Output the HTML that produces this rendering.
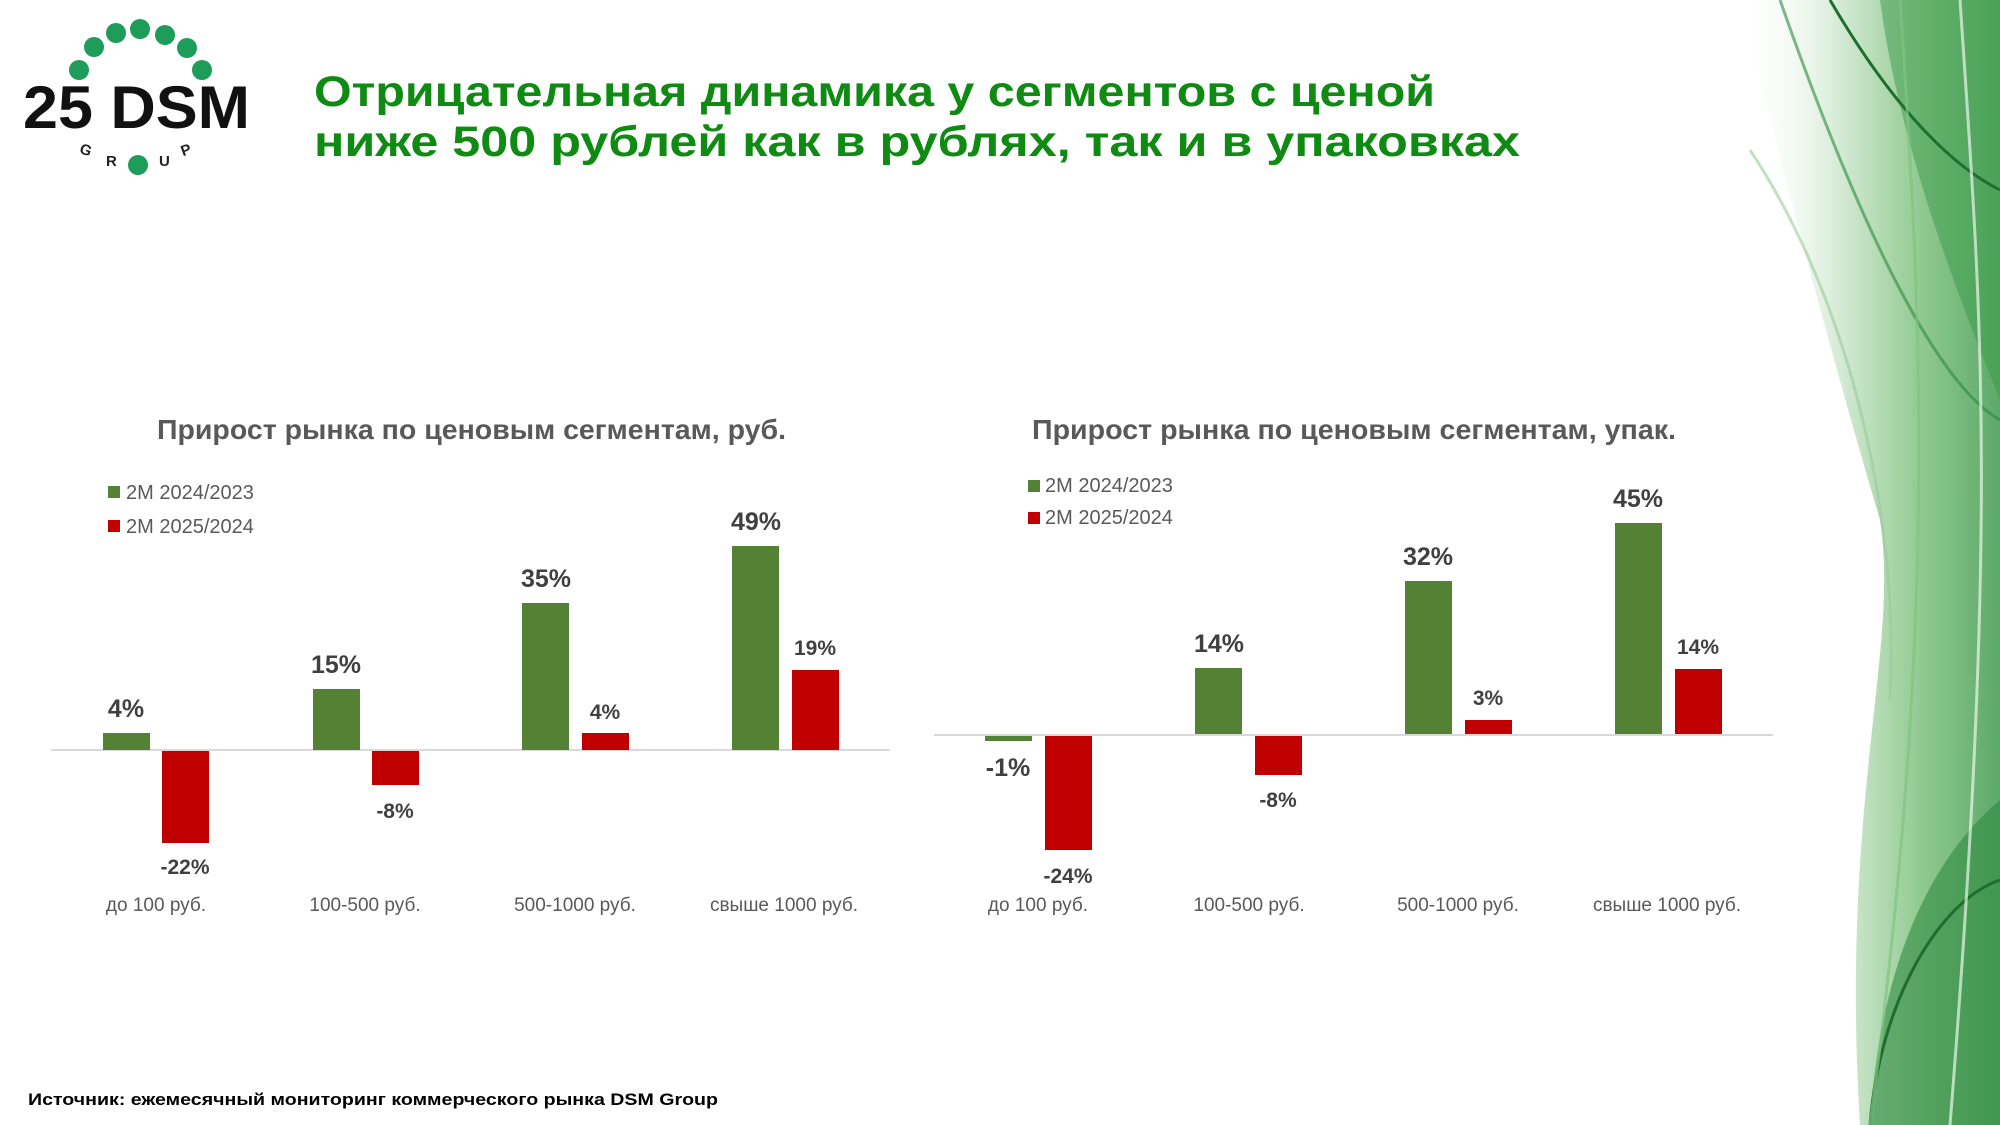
<!DOCTYPE html>
<html><head><meta charset="utf-8"><style>
html,body{margin:0;padding:0;background:#fff;}
svg{display:block;}
text{font-family:"Liberation Sans","DejaVu Sans",sans-serif;}
</style></head><body>
<svg width="2000" height="1125" viewBox="0 0 2000 1125" xmlns="http://www.w3.org/2000/svg">
<defs>
<linearGradient id="bg" x1="0" y1="0" x2="1" y2="0">
<stop offset="0" stop-color="#fff" stop-opacity="0"/>
<stop offset="0.35" stop-color="#d6ebd6"/>
<stop offset="0.7" stop-color="#7cc07c"/>
<stop offset="1" stop-color="#3f9a4c"/>
</linearGradient>
</defs>
<rect width="2000" height="1125" fill="#fff"/>
<path d="M1740,0 C1790,200 1830,350 1880,520 C1900,650 1840,800 1860,1125 L2000,1125 L2000,0 Z" fill="url(#bg)" opacity="0.85"/>
<path d="M1880,0 C1900,150 1960,300 2000,400 L2000,0 Z" fill="#3a9a4a" opacity="0.5"/>
<path d="M1870,1125 C1880,950 1940,850 2000,800 L2000,1125 Z" fill="#2f8a40" opacity="0.6"/>
<g fill="none" stroke-width="3">
<path d="M1830,0 C1900,120 1960,170 2000,190" stroke="#1f6e2f"/>
<path d="M1780,0 C1850,200 1930,380 2000,420" stroke="#2c8a3c" opacity="0.6"/>
<path d="M1870,1125 C1880,1000 1940,900 2000,880" stroke="#1f6e2f"/>
<path d="M1900,0 C1920,300 1940,600 1870,1125" stroke="#7fc47f" opacity="0.7"/>
<path d="M1960,0 C1980,300 2000,500 1950,1125" stroke="#eaf6ea" opacity="0.7"/>
<path d="M1750,150 C1850,300 1900,520 1890,700" stroke="#99cc99" opacity="0.6"/>
</g>
<g fill="#1e9c5a">
<circle cx="79" cy="70" r="10"/><circle cx="94" cy="47" r="10"/><circle cx="116" cy="33" r="10"/>
<circle cx="140" cy="29" r="10"/><circle cx="165" cy="35" r="10"/><circle cx="187" cy="48" r="10"/>
<circle cx="202" cy="70" r="10"/><circle cx="138" cy="165" r="10"/>
</g>
<text x="23" y="128" font-size="60" font-weight="bold" fill="#111" textLength="227" lengthAdjust="spacingAndGlyphs">25 DSM</text>
<text x="80" y="155" font-size="15" font-weight="bold" fill="#222" transform="rotate(20 86 150)">G</text>
<text x="106" y="166" font-size="15" font-weight="bold" fill="#222">R</text>
<text x="159" y="166" font-size="15" font-weight="bold" fill="#222">U</text>
<text x="181" y="155" font-size="15" font-weight="bold" fill="#222" transform="rotate(-20 186 150)">P</text>
<text x="314" y="106" font-size="43" font-weight="bold" fill="#0f8a12" textLength="1121" lengthAdjust="spacingAndGlyphs">Отрицательная динамика у сегментов с ценой</text>
<text x="314" y="156" font-size="43" font-weight="bold" fill="#0f8a12" textLength="1206" lengthAdjust="spacingAndGlyphs">ниже 500 рублей как в рублях, так и в упаковках</text>

<text x="157" y="439" font-size="28" font-weight="bold" fill="#595959" textLength="629" lengthAdjust="spacingAndGlyphs">Прирост рынка по ценовым сегментам, руб.</text>
<rect x="108" y="486" width="12" height="12" fill="#548235"/>
<text x="126" y="499" font-size="20" fill="#595959">2M 2024/2023</text>
<rect x="108" y="520" width="12" height="12" fill="#c00000"/>
<text x="126" y="533" font-size="20" fill="#595959">2M 2025/2024</text>
<line x1="51" y1="750" x2="890" y2="750" stroke="#d9d9d9" stroke-width="2"/>
<g fill="#548235">
<rect x="103" y="733" width="47" height="17"/>
<rect x="313" y="689" width="47" height="61"/>
<rect x="522" y="603" width="47" height="147"/>
<rect x="732" y="546" width="47" height="204"/>
</g>
<g fill="#c00000">
<rect x="162" y="751" width="47" height="92"/>
<rect x="372" y="751" width="47" height="34"/>
<rect x="582" y="733" width="47" height="17"/>
<rect x="792" y="670" width="47" height="80"/>
</g>
<g font-weight="bold" fill="#404040" text-anchor="middle">
<text x="126" y="717" font-size="25">4%</text>
<text x="336" y="673" font-size="25">15%</text>
<text x="546" y="587" font-size="25">35%</text>
<text x="756" y="530" font-size="25">49%</text>
<text x="185" y="874" font-size="21">-22%</text>
<text x="395" y="818" font-size="21">-8%</text>
<text x="605" y="719" font-size="21">4%</text>
<text x="815" y="655" font-size="21">19%</text>
</g>
<g font-size="19" fill="#595959" text-anchor="middle">
<text x="156" y="911">до 100 руб.</text>
<text x="365" y="911">100-500 руб.</text>
<text x="575" y="911">500-1000 руб.</text>
<text x="784" y="911">свыше 1000 руб.</text>
</g>

<text x="1032" y="439" font-size="28" font-weight="bold" fill="#595959" textLength="644" lengthAdjust="spacingAndGlyphs">Прирост рынка по ценовым сегментам, упак.</text>
<rect x="1028" y="480" width="12" height="12" fill="#548235"/>
<text x="1045" y="492" font-size="20" fill="#595959">2M 2024/2023</text>
<rect x="1028" y="512" width="12" height="12" fill="#c00000"/>
<text x="1045" y="524" font-size="20" fill="#595959">2M 2025/2024</text>
<line x1="934" y1="735" x2="1773" y2="735" stroke="#d9d9d9" stroke-width="2"/>
<g fill="#548235">
<rect x="985" y="736" width="47" height="5"/>
<rect x="1195" y="668" width="47" height="66"/>
<rect x="1405" y="581" width="47" height="153"/>
<rect x="1615" y="523" width="47" height="211"/>
</g>
<g fill="#c00000">
<rect x="1045" y="736" width="47" height="114"/>
<rect x="1255" y="736" width="47" height="39"/>
<rect x="1465" y="720" width="47" height="14"/>
<rect x="1675" y="669" width="47" height="65"/>
</g>
<g font-weight="bold" fill="#404040" text-anchor="middle">
<text x="1008" y="776" font-size="25">-1%</text>
<text x="1219" y="652" font-size="25">14%</text>
<text x="1428" y="565" font-size="25">32%</text>
<text x="1638" y="507" font-size="25">45%</text>
<text x="1068" y="883" font-size="21">-24%</text>
<text x="1278" y="807" font-size="21">-8%</text>
<text x="1488" y="705" font-size="21">3%</text>
<text x="1698" y="654" font-size="21">14%</text>
</g>
<g font-size="19" fill="#595959" text-anchor="middle">
<text x="1038" y="911">до 100 руб.</text>
<text x="1249" y="911">100-500 руб.</text>
<text x="1458" y="911">500-1000 руб.</text>
<text x="1667" y="911">свыше 1000 руб.</text>
</g>

<text x="28" y="1105" font-size="17" font-weight="bold" fill="#000" textLength="690" lengthAdjust="spacingAndGlyphs">Источник: ежемесячный мониторинг коммерческого рынка DSM Group</text>
</svg>
</body></html>
